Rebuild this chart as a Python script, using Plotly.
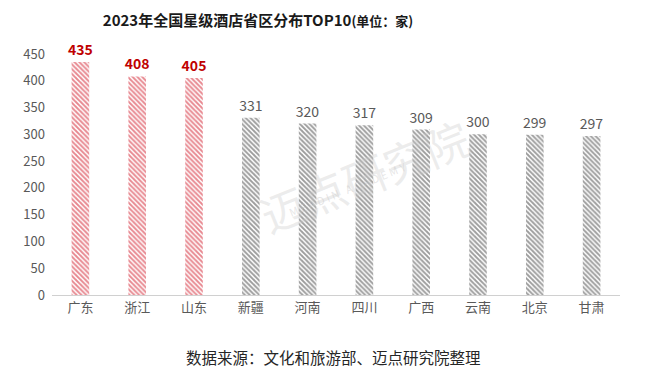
import plotly.graph_objects as go

categories = ["广东", "浙江", "山东", "新疆", "河南", "四川", "广西", "云南", "北京", "甘肃"]
values = [435, 408, 405, 331, 320, 317, 309, 300, 299, 297]
highlight = [True, True, True, False, False, False, False, False, False, False]
y_ticks = [0, 50, 100, 150, 200, 250, 300, 350, 400, 450]

RED = "#C00000"
GRAY_BAR = "#3a3a3a"
TXT = "#595959"
FONT = "Noto Sans CJK SC"

bar_colors = ["#D01020" if h else GRAY_BAR for h in highlight]

fig = go.Figure()
fig.add_trace(go.Bar(
    x=categories, y=values,
    width=0.31,
    marker=dict(
        color="white",
        line=dict(width=0),
        pattern=dict(shape="\\", fgcolor=bar_colors, bgcolor="white",
                     size=3.4, solidity=0.55, fillmode="overlay"),
    ),
    text=[str(v) for v in values],
    textposition="outside",
    constraintext="none",
    cliponaxis=False,
    textfont=dict(
        family=FONT, size=14,
        color=[RED if h else TXT for h in highlight],
        weight=[700 if h else 400 for h in highlight],
    ),
    showlegend=False,
))

fig.update_layout(
    width=650, height=377,
    paper_bgcolor="white", plot_bgcolor="white",
    margin=dict(l=52, r=30, t=54, b=82),
    bargap=0.69,
    font=dict(family=FONT, color=TXT),
    title=dict(
        text="<b>2023年全国星级酒店省区分布TOP10</b><b><span style='font-size:13px'>(单位：家)</span></b>",
        x=258/650, xanchor="center", y=1 - 21/377, yanchor="middle",
        font=dict(family=FONT, size=15, color="#1a1a1a"),
    ),
    xaxis=dict(
        showgrid=False, showline=True, linecolor="#d0d0d0", linewidth=1,
        ticks="", tickfont=dict(family=FONT, size=13, color=TXT),
        fixedrange=True,
    ),
    yaxis=dict(
        range=[0, 450], tickvals=y_ticks, showgrid=False, zeroline=False,
        showline=False, ticks="", tickfont=dict(family=FONT, size=13, color=TXT),
        ticklabelstandoff=6, fixedrange=True,
    ),
)

fig.add_annotation(
    text="数据来源：文化和旅游部、迈点研究院整理",
    xref="paper", yref="paper", x=322/650 * 1.0, xanchor="center",
    y=-62/241, yanchor="middle", showarrow=False,
    font=dict(family=FONT, size=15.5, color="#262626"),
)
# faint watermark
fig.add_annotation(
    text="迈点研究院", xref="paper", yref="paper",
    x=0.55, y=0.5, showarrow=False, textangle=-22,
    font=dict(family=FONT, size=44, color="rgba(200,200,200,0.35)"),
)
fig.add_annotation(
    text="M E A D I N   A C A D E M Y", xref="paper", yref="paper",
    x=0.52, y=0.3, showarrow=False, textangle=-22,
    font=dict(family=FONT, size=11, color="rgba(200,200,200,0.45)"),
)

fig.write_html("out.html", config={"displayModeBar": False},
               post_script="document.body.style.margin='0px';document.body.style.padding='0px';")
